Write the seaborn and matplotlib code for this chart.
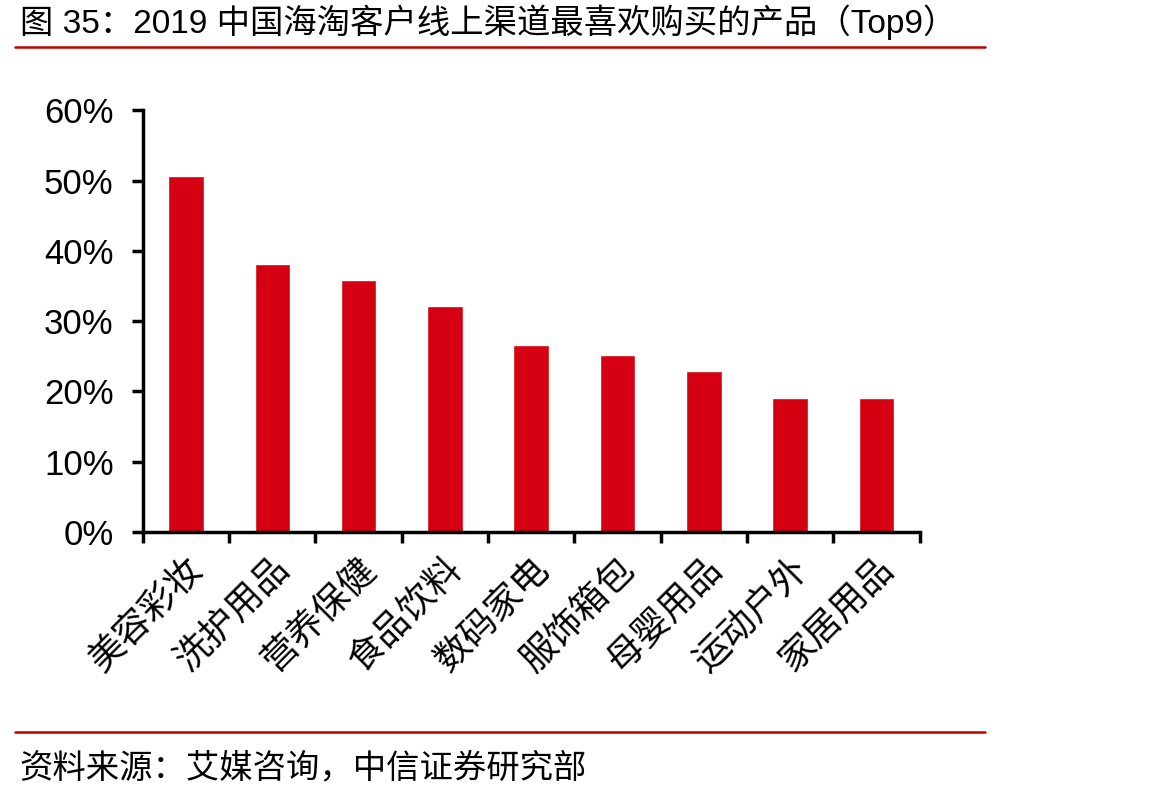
import matplotlib
matplotlib.use("Agg")
import matplotlib.pyplot as plt
import seaborn as sns
import pandas as pd
from matplotlib.lines import Line2D
from matplotlib.ticker import MultipleLocator, PercentFormatter

categories = ["美容彩妆", "洗护用品", "营养保健", "食品饮料", "数码家电",
              "服饰箱包", "母婴用品", "运动户外", "家居用品"]
shares = [50.6, 38.2, 35.8, 32.1, 26.6, 25.2, 22.9, 19.1, 19.1]

title = "图 35：2019 中国海淘客户线上渠道最喜欢购买的产品（Top9）"
source = "资料来源：艾媒咨询，中信证券研究部"

sns.set_theme(style="white")
plt.rcParams["font.family"] = ["Liberation Sans", "Noto Sans CJK SC", "DejaVu Sans"]
plt.rcParams["text.color"] = "black"
plt.rcParams["xtick.color"] = "black"
plt.rcParams["ytick.color"] = "black"

df = pd.DataFrame({"cat": categories, "val": shares})

fig = plt.figure(figsize=(11.7, 7.97), dpi=100)
ax = fig.add_axes([0.122, 0.3325, 0.664, 0.529])
sns.barplot(data=df, x="cat", y="val", color="#d50011", width=0.41,
            saturation=1, ax=ax)

ax.set_ylim(0, 60)
ax.set_xlim(-0.5, len(categories) - 0.5)
ax.yaxis.set_major_locator(MultipleLocator(10))
ax.yaxis.set_major_formatter(PercentFormatter(decimals=0))
ax.set_xlabel("")
ax.set_ylabel("")

for s in ["top", "right"]:
    ax.spines[s].set_visible(False)
for s in ["left", "bottom"]:
    ax.spines[s].set_linewidth(2.5)
    ax.spines[s].set_color("black")

# x ticks sit between categories
ax.set_xticks([i - 0.5 for i in range(len(categories) + 1)], minor=False)
ax.set_xticklabels([])
ax.set_xticks(range(len(categories)), minor=True)
ax.set_xticklabels(categories, minor=True, rotation=45, ha="right",
                   rotation_mode="anchor", fontsize=26)
ax.tick_params(axis="x", which="major", direction="out", length=8, width=2.5,
               color="black", bottom=True)
ax.tick_params(axis="x", which="minor", length=0, pad=14)
ax.tick_params(axis="y", direction="out", length=8, width=2.5, color="black",
               left=True, labelsize=25, pad=13)

fig.text(0.017, 0.972, title, fontsize=24, va="center", ha="left")
fig.add_artist(Line2D([0.013, 0.842], [0.941, 0.941], color="#c00000", lw=1.8,
                      transform=fig.transFigure))
fig.add_artist(Line2D([0.013, 0.842], [0.082, 0.082], color="#c00000", lw=1.8,
                      transform=fig.transFigure))
fig.text(0.017, 0.036, source, fontsize=24, va="center", ha="left")

fig.savefig("out.png", dpi=100, facecolor="white")
